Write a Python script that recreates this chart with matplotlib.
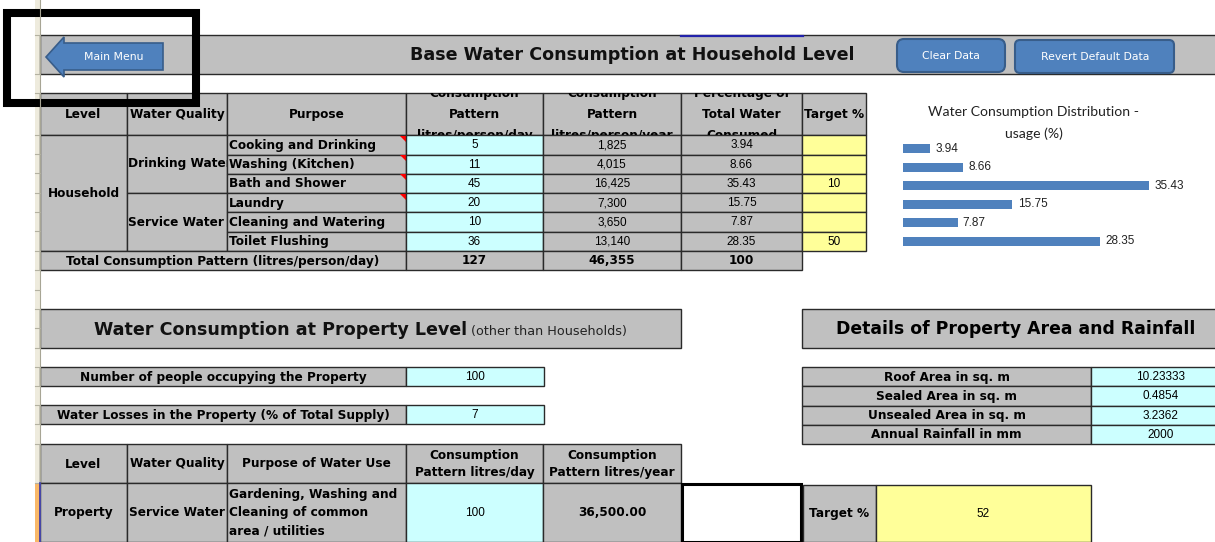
import matplotlib.pyplot as plt
from matplotlib.patches import Rectangle, Polygon, FancyBboxPatch

plt.rcParams["font.family"] = ["Liberation Sans", "DejaVu Sans"]

# household table data
purposes = ["Cooking and Drinking", "Washing (Kitchen)", "Bath and Shower",
            "Laundry", "Cleaning and Watering", "Toilet Flushing"]
lit_day = [5, 11, 45, 20, 10, 36]
lit_year = [1825, 4015, 16425, 7300, 3650, 13140]
pct = [3.94, 8.66, 35.43, 15.75, 7.87, 28.35]
targets = ["", "", "10", "", "", "50"]
has_note = [True, True, True, True, False, False]
total_day, total_year, total_pct = 127, 46355, 100

# property level data
people = 100
losses = 7
area_labels = ["Roof Area in sq. m", "Sealed Area in sq. m",
               "Unsealed Area in sq. m", "Annual Rainfall in mm"]
area_values = ["10.23333", "0.4854", "3.2362", "2000"]
prop_day = 100
prop_year = 36500.00
prop_target = 52

W, H = 1215, 542
GRAY = "#C0C0C0"
CYAN = "#CCFFFF"
YEL = "#FFFF99"
EDGE = "#2A2A2A"
BLUE = "#4F81BD"
BLUE_E = "#385D8A"
BOLD_FONT = "DejaVu Sans"
NUM_FONT = "Liberation Sans"

fig = plt.figure(figsize=(W / 100, H / 100), dpi=100)
ax = fig.add_axes([0, 0, 1, 1])
ax.set_xlim(0, W)
ax.set_ylim(H, 0)
ax.axis("off")


def cell(x0, x1, y0, y1, fc=GRAY, text="", bold=True, size=8.7, ha="center",
         lw=1.0, ls=1.2, ec=EDGE, clip=True):
    r = Rectangle((x0, y0), x1 - x0, y1 - y0, facecolor=fc, edgecolor=ec, lw=lw)
    ax.add_patch(r)
    if text != "":
        tx = {"center": (x0 + x1) / 2, "left": x0 + 2, "right": x1 - 3}[ha]
        t = ax.text(tx, (y0 + y1) / 2 + 0.5, text, ha=ha, va="center", fontsize=size,
                    fontweight="bold" if bold else "normal", linespacing=ls,
                    family=BOLD_FONT if bold else NUM_FONT,
                    color="black", multialignment=ha, clip_on=clip)
        if clip:
            t.set_clip_path(r)
    return r


# row header strip at the left
ax.add_patch(Rectangle((35, 0), 5, H, facecolor="#EEEBDD", edgecolor="none"))
ax.plot([40, 40], [0, H], color="#A7A594", lw=0.8)
for yb in [35, 74, 93, 135, 154, 173, 193, 212, 231, 251, 270, 290, 309, 328,
           348, 367, 386, 405, 424, 444, 483]:
    ax.plot([35, 40], [yb, yb], color="#B3B1A1", lw=0.8)

# top band with title
ax.add_patch(Rectangle((40, 35), 1190, 39, facecolor=GRAY, edgecolor=EDGE, lw=1))
ax.plot([681, 803], [35.5, 35.5], color="#2222AA", lw=1.6)
ax.text(632, 55, "Base Water Consumption at Household Level", ha="center",
        va="center", fontsize=12.6, fontweight="bold", family=BOLD_FONT,
        color="#111111")

# buttons
ax.add_patch(Polygon([(46, 57), (64, 37), (64, 43), (163, 43), (163, 70),
                      (64, 70), (64, 77)], closed=True, facecolor=BLUE,
                     edgecolor=BLUE_E, lw=1.2))
ax.text(114, 57, "Main Menu", ha="center", va="center", fontsize=7.8,
        family="DejaVu Sans", color="white")
ax.add_patch(FancyBboxPatch((897, 39), 108, 33, boxstyle="round,pad=0,rounding_size=7",
                            facecolor=BLUE, edgecolor=BLUE_E, lw=1.5))
ax.text(951, 56, "Clear Data", ha="center", va="center", fontsize=7.8,
        family="DejaVu Sans", color="white")
ax.add_patch(FancyBboxPatch((1015, 40), 159, 33, boxstyle="round,pad=0,rounding_size=5",
                            facecolor=BLUE, edgecolor=BLUE_E, lw=1.5))
ax.text(1095, 57, "Revert Default Data", ha="center", va="center", fontsize=7.8,
        family="DejaVu Sans", color="white")

# household table
cols = [40, 127, 227, 406, 543, 681, 802, 866]
hdr = ["Level", "Water Quality", "Purpose", "Consumption\nPattern\nlitres/person/day",
       "Consumption\nPattern\nlitres/person/year", "Percentage of\nTotal Water\nConsumed",
       "Target %"]
for i, h in enumerate(hdr):
    cell(cols[i], cols[i + 1], 93, 135, text=h, ls=1.78)

rows = [135, 154.5, 173.5, 193, 212, 231.5, 251, 270]
cell(40, 127, rows[0], rows[6], text="Household")
cell(127, 227, rows[0], rows[3])
cell(127, 227, rows[3], rows[6])
for lab, r0, r1 in [("Drinking Water", rows[0], rows[3]),
                    ("Service Water", rows[3], rows[6])]:
    clipper = Rectangle((127, r0), 100, r1 - r0, facecolor="none", edgecolor="none")
    ax.add_patch(clipper)
    t = ax.text(128, (r0 + r1) / 2, lab, ha="left", va="center", fontsize=8.7,
                fontweight="bold", family=BOLD_FONT, clip_on=True)
    t.set_clip_path(clipper)

for i in range(6):
    y0, y1 = rows[i], rows[i + 1]
    cell(227, 406, y0, y1, text=purposes[i], ha="left")
    if has_note[i]:
        ax.add_patch(Polygon([(400, y0 + 0.5), (406, y0 + 0.5), (406, y0 + 6.5)],
                             closed=True, facecolor="red", edgecolor="none"))
    cell(406, 543, y0, y1, fc=CYAN, text=str(lit_day[i]), bold=False, size=8.5)
    cell(543, 681, y0, y1, text=f"{lit_year[i]:,}", bold=False, size=8.5)
    cell(681, 802, y0, y1, text=f"{pct[i]:.2f}", bold=False, size=8.5)
    cell(802, 866, y0, y1, fc=YEL, text=targets[i], bold=False, size=8.5)

cell(40, 406, rows[6], rows[7], text="Total Consumption Pattern (litres/person/day)")
cell(406, 543, rows[6], rows[7], text=str(total_day))
cell(543, 681, rows[6], rows[7], text=f"{total_year:,}")
cell(681, 802, rows[6], rows[7], text=str(total_pct))

# bar chart of distribution
ax.text(1034, 123, "Water Consumption Distribution -\nusage (%)", ha="center",
        va="center", fontsize=10.1, family="Lato", linespacing=1.85, color="#222222")
px_unit = 246 / 35.43
bar_ax = fig.add_axes([903 / W, (H - 250.5) / H, 40 * px_unit / W, 110.9 / H])
ypos = list(range(len(pct)))
bar_ax.barh(ypos, pct, height=0.49, color=BLUE)
for yy, v in zip(ypos, pct):
    bar_ax.text(v + 0.75, yy, f"{v:.2f}", va="center", ha="left", fontsize=8.5,
                color="#222222")
bar_ax.set_xlim(0, 40)
bar_ax.set_ylim(5.5, -0.5)
bar_ax.axis("off")

# property level section
cell(40, 681, 309, 348)
ax.text(467, 335, "Water Consumption at Property Level", ha="right", va="baseline",
        fontsize=12.6, fontweight="bold", family=BOLD_FONT, color="#111111")
ax.text(471, 335, "(other than Households)", ha="left", va="baseline", fontsize=9.2,
        family="DejaVu Sans", color="#222222")
cell(802, 1230, 309, 348, text="Details of Property Area and Rainfall", size=12.4,
     clip=False)

cell(40, 406, 367, 386, text="Number of people occupying the Property")
cell(406, 544, 367, 386, fc=CYAN, text=str(people), bold=False, size=8.5)
cell(40, 406, 405, 424, text="Water Losses in the Property (% of Total Supply)")
cell(406, 544, 405, 424, fc=CYAN, text=str(losses), bold=False, size=8.5)

area_rows = [367, 386.25, 405.5, 424.75, 444]
for i in range(4):
    cell(802, 1091, area_rows[i], area_rows[i + 1], text=area_labels[i])
    cell(1091, 1230, area_rows[i], area_rows[i + 1], fc=CYAN, text=area_values[i],
         bold=False, size=8.5)

phdr = ["Level", "Water Quality", "Purpose of Water Use",
        "Consumption\nPattern litres/day", "Consumption\nPattern litres/year"]
for i, h in enumerate(phdr):
    cell(cols[i], cols[i + 1], 444, 483, text=h, ls=1.4)
cell(40, 127, 483, 541.5, text="Property")
cell(127, 227, 483, 541.5, text="Service Water")
cell(227, 406, 483, 541.5, text="Gardening, Washing and\nCleaning of common\narea / utilities",
     ha="left", ls=1.55)
cell(406, 543, 483, 541.5, fc=CYAN, text=str(prop_day), bold=False, size=8.5)
cell(543, 681, 483, 541.5, text=f"{prop_year:,.2f}")
ax.add_patch(Rectangle((682, 484), 119, 57.5, facecolor="white", edgecolor="black", lw=2.2))
cell(803, 876, 485, 541.5, text="Target %")
cell(876, 1091, 485, 541.5, fc=YEL, text=str(prop_target), bold=False, size=8.5)

# active row marker on the left
ax.add_patch(Rectangle((35, 483), 5, 60, facecolor="#F9B868", edgecolor="none"))
ax.plot([40, 40], [483, 542], color="#3333AA", lw=1.2)

# thick black highlight frame
ax.add_patch(Rectangle((7, 13), 189, 90, facecolor="none", edgecolor="black", lw=5.8))

fig.savefig("out.png", dpi=100)
